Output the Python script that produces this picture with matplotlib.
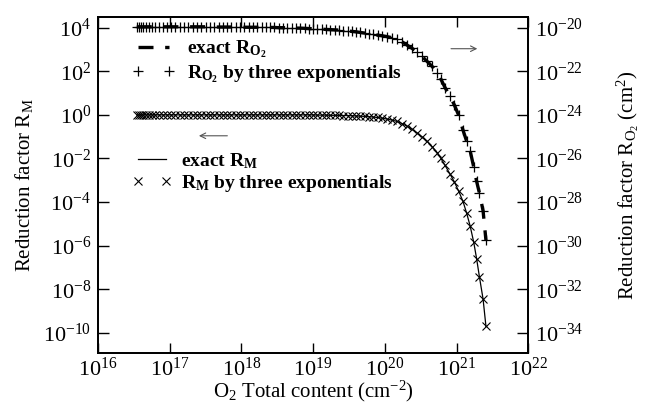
import numpy as np
import matplotlib
matplotlib.use('Agg')
import matplotlib.pyplot as plt
from matplotlib.lines import Line2D
from matplotlib.ticker import FixedLocator, FuncFormatter, NullLocator

plt.rcParams['font.family'] = ['Liberation Serif', 'DejaVu Serif']
plt.rcParams['mathtext.fontset'] = 'custom'
plt.rcParams['mathtext.rm'] = 'Liberation Serif'
plt.rcParams['mathtext.it'] = 'Liberation Serif:italic'
plt.rcParams['mathtext.bf'] = 'Liberation Serif:bold'

# log10 of O2 total content (cm^-2)
log_n = [16.54, 16.57, 16.60, 16.63, 16.67, 16.71, 16.75, 16.80, 16.85, 16.90,
         16.96, 17.02, 17.08, 17.14, 17.20, 17.26, 17.32, 17.38, 17.44, 17.50,
         17.56, 17.62, 17.68, 17.74, 17.80, 17.86, 17.92, 17.98, 18.04, 18.10,
         18.16, 18.22, 18.28, 18.34, 18.40, 18.46, 18.52, 18.58, 18.64, 18.70,
         18.76, 18.82, 18.88, 18.94, 19.00, 19.06, 19.12, 19.18, 19.24, 19.30,
         19.36, 19.42, 19.48, 19.54, 19.60, 19.66, 19.72, 19.78, 19.84, 19.90,
         19.96, 20.03, 20.10, 20.17, 20.24, 20.31, 20.38, 20.45, 20.52, 20.59,
         20.66, 20.73, 20.78, 20.84, 20.91, 20.97, 21.03, 21.09, 21.14, 21.19,
         21.24, 21.28, 21.32, 21.37, 21.41]

# log10 of R_M (left axis)
log_rm = [0.00, 0.00, 0.00, 0.00, 0.00, 0.00, 0.00, 0.00, 0.00, 0.00,
          0.00, 0.00, 0.00, 0.00, 0.00, 0.00, 0.00, 0.00, 0.00, 0.00,
          0.00, 0.00, 0.00, 0.00, 0.00, 0.00, 0.00, 0.00, 0.00, 0.00,
          0.00, 0.00, 0.00, 0.00, 0.00, 0.00, 0.00, 0.00, 0.00, 0.00,
          0.00, 0.00, 0.00, 0.00, 0.00, -0.01, -0.01, -0.01, -0.02, -0.02,
          -0.02, -0.03, -0.03, -0.04, -0.05, -0.06, -0.07, -0.08, -0.10, -0.12,
          -0.15, -0.19, -0.24, -0.30, -0.40, -0.52, -0.66, -0.83, -1.01, -1.22,
          -1.46, -1.73, -1.98, -2.32, -2.72, -3.08, -3.50, -3.97, -4.50, -5.10,
          -5.85, -6.60, -7.45, -8.45, -9.70]

# log10 of R_O2 in cm^2 (right axis)
log_ro2 = [-19.96, -19.96, -19.96, -19.96, -19.96, -19.96, -19.96, -19.96, -19.96, -19.96,
           -19.96, -19.96, -19.96, -19.96, -19.96, -19.96, -19.96, -19.96, -19.96, -19.96,
           -19.97, -19.97, -19.97, -19.97, -19.97, -19.97, -19.97, -19.97, -19.98, -19.98,
           -19.98, -19.98, -19.98, -19.98, -19.99, -19.99, -20.00, -20.00, -20.01, -20.01,
           -20.02, -20.02, -20.03, -20.04, -20.05, -20.06, -20.07, -20.08, -20.09, -20.10,
           -20.11, -20.13, -20.15, -20.17, -20.19, -20.22, -20.25, -20.28, -20.31, -20.34,
           -20.37, -20.41, -20.46, -20.53, -20.65, -20.80, -20.95, -21.10, -21.32, -21.55,
           -21.78, -22.08, -22.35, -22.75, -23.15, -23.55, -24.02, -24.70, -25.20, -25.65,
           -26.40, -27.05, -27.60, -28.40, -29.75]

x_ticks = [16, 17, 18, 19, 20, 21, 22]
left_ticks = [4, 2, 0, -2, -4, -6, -8, -10]
right_ticks = [-20, -22, -24, -26, -28, -30, -32, -34]

n = 10.0 ** np.array(log_n)
rm = 10.0 ** np.array(log_rm)
ro2 = 10.0 ** np.array(log_ro2)

fig = plt.figure(figsize=(6.45, 4.09), dpi=100)
ax = fig.add_axes([0.152, 0.137, 0.667, 0.822])
ax2 = ax.twinx()

ax.plot(n, rm, color='black', lw=0.9)
ax.plot(n, rm, ls='none', marker='x', ms=6, mew=0.8, color='black')
ax2.plot(n, ro2, color='black', lw=2.4, ls=(0, (4.5, 3.5)))
ax2.plot(n, ro2, ls='none', marker='+', ms=7, mew=0.9, color='black')

for a in (ax, ax2):
    a.set_xscale('log')
    a.set_yscale('log')
    a.xaxis.set_minor_locator(NullLocator())
    a.yaxis.set_minor_locator(NullLocator())
    for s in a.spines.values():
        s.set_linewidth(1.3)

ax.set_xlim(1e16, 1e22)
ax.set_ylim(10 ** -10.92, 10 ** 4.5)
ax2.set_ylim(10 ** -34.92, 10 ** -19.5)

fmt = FuncFormatter(lambda v, p: r'$10^{%d}$' % round(np.log10(v)))
ax.xaxis.set_major_locator(FixedLocator([10.0 ** k for k in x_ticks]))
ax.xaxis.set_major_formatter(fmt)
ax.yaxis.set_major_locator(FixedLocator([10.0 ** k for k in left_ticks]))
ax.yaxis.set_major_formatter(fmt)
ax2.yaxis.set_major_locator(FixedLocator([10.0 ** k for k in right_ticks]))
ax2.yaxis.set_major_formatter(fmt)

ax.tick_params(axis='x', which='major', direction='in', top=True, length=7, width=1, labelsize=16, pad=3)
ax.tick_params(axis='y', which='major', direction='in', length=8, width=1, labelsize=16, pad=5)
ax2.tick_params(axis='y', which='major', direction='in', length=8, width=1, labelsize=16, pad=5)

ax.set_xlabel(r'O$_2$ Total content (cm$^{-2}$)', fontsize=15, labelpad=-1)
ax.set_ylabel(r'Reduction factor R$_\mathrm{M}$', fontsize=15, labelpad=6)
ax2.set_ylabel(r'Reduction factor R$_{\mathrm{O_2}}$ (cm$^2$)', fontsize=15, labelpad=22)

h1 = [Line2D([], [], color='black', lw=2.4, ls=(0, (4.5, 3.5))),
      Line2D([], [], color='black', ls='none', marker='+', ms=7, mew=0.9)]
h2 = [Line2D([], [], color='black', lw=0.9),
      Line2D([], [], color='black', ls='none', marker='x', ms=6, mew=0.8)]
leg_font = {'size': 14, 'weight': 'bold'}
leg1 = ax2.legend(h1, [r'exact R$_{\mathbf{O_2}}$', r'R$_{\mathbf{O_2}}$ by three exponentials'],
                  loc='upper left', bbox_to_anchor=(0.08, 0.935), frameon=False, prop=leg_font,
                  numpoints=2, handlelength=2.2, handletextpad=0.6, labelspacing=0.15,
                  borderpad=0, borderaxespad=0)
ax2.add_artist(leg1)
ax2.legend(h2, [r'exact R$_{\mathbf{M}}$', r'R$_{\mathbf{M}}$ by three exponentials'],
           loc='upper left', bbox_to_anchor=(0.08, 0.6), frameon=False, prop=leg_font,
           numpoints=2, handlelength=2.0, handletextpad=0.5, labelspacing=0.1,
           borderpad=0, borderaxespad=0)

arrow = dict(arrowstyle='->', color='#555555', lw=0.8)
ax2.annotate('', xy=(0.888, 0.905), xytext=(0.814, 0.905), xycoords='axes fraction', arrowprops=arrow)
ax2.annotate('', xy=(0.228, 0.646), xytext=(0.307, 0.646), xycoords='axes fraction', arrowprops=arrow)

fig.savefig('out.png', dpi=100)
